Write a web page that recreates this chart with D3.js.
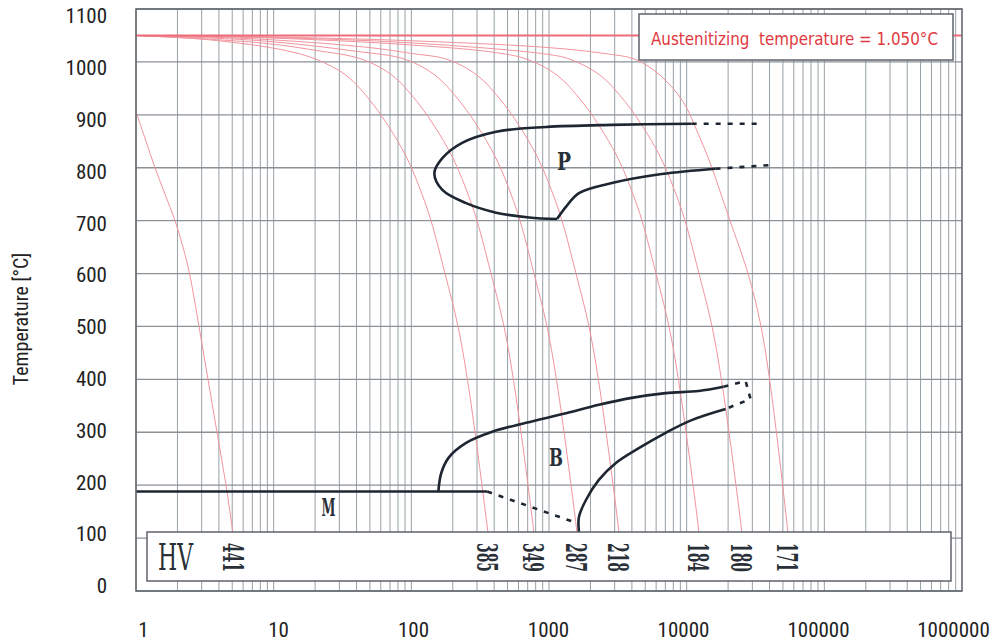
<!DOCTYPE html>
<html>
<head>
<meta charset="utf-8">
<script src="https://cdn.jsdelivr.net/npm/d3@7/dist/d3.min.js"></script>
<style>
  body { margin: 0; background: #fff; }
  svg { display: block; }
</style>
</head>
<body>
<div id="chart"></div>
<script>
// cooling curves as [time (s), temperature (°C)]
const cool441 = [[1,905],[1.017,900],[1.182,850],[1.374,800],[1.624,750],[1.92,700],[2.195,650],[2.447,600],[2.869,500],[3.334,400],[3.876,300],[4.506,200],[5.066,110],[5.3,80]];
const cool385 = [[1,1050],[3,1043],[8,1030],[14,1018],[20.3,1005],[33.5,975],[50.9,925],[73.6,865],[96.2,810],[119.5,750],[138.9,700],[175.6,600],[218.3,500],[262.4,380],[360.5,110],[372,80]];
const cool349 = [[1,1050],[8,1036],[20,1022],[43.8,1005],[72.4,975],[109.9,925],[158.9,865],[207.6,810],[257.9,750],[299.9,700],[379,600],[471.1,500],[566.2,380],[778,110],[800,80]];
const cool287 = [[1,1050],[8,1040],[40,1020],[89.9,1005],[148.6,975],[225.7,925],[326.1,865],[426.1,810],[529.7,750],[615.8,700],[778,600],[967.1,500],[1162.8,380],[1597,110],[1640,80]];
const cool218 = [[1,1050],[8,1043],[50,1027],[100,1016],[181.6,1005],[299.9,975],[455.7,925],[658.2,865],[860.3,810],[1069,750],[1243,700],[1571,600],[1952,500],[2346,380],[3225,110],[3300,80]];
const cool184 = [[1,1050],[10,1045],[100,1032],[400,1018],[692,1005],[1143,975],[1737,925],[2508,865],[3279,810],[4075,750],[4738,700],[5987,600],[7438,500],[8943,380],[12290,110],[12600,80]];
const cool180 = [[1,1050],[10,1046],[100,1036],[1000,1014],[1421,1005],[2346,975],[3566,925],[5151,865],[6732,810],[8365,750],[9725,700],[12290,600],[15280,500],[18360,380],[25230,110],[26000,80]];
const cool171 = [[1,1050],[10,1047],[100,1040],[1000,1027],[2500,1016],[4214,1005],[6403,975],[9406,925],[12090,865],[14770,810],[17760,750],[20640,700],[27890,600],[34670,500],[40990,380],[54470,110],[56000,80]];

const coolingCurves = [cool441, cool385, cool349, cool287, cool218, cool184, cool180, cool171];
const hvValues = [441, 385, 349, 287, 218, 184, 180, 171];

const austenitizingT = 1050;

// transformation lines
const pNose = [[10870,883],[2860,881],[951,877],[413,868],[234,847],[168,818],[147,790],[168,758],[250,733],[413,715],[716,706],[1143,703]];
const pFinish = [[1143,703],[1327,726],[1650,752],[2860,771],[6590,788],[16200,798]];
const pStartDash = [[10870,883],[34400,883]];
const pFinishDash = [[16200,798],[40600,805]];

const bStart = [[157,187],[165,223],[188,253],[250,280],[387,301],[681,318],[1328,336],[2302,352],[3990,365],[7040,374],[12200,378],[18500,386]];
const bFinish = [[1650,111],[1650,140],[1855,172],[2302,210],[3060,242],[4490,270],[7040,299],[10870,323],[19170,344]];
const bDash = [[18500,386],[26800,397],[29100,363],[19170,344]];

const msLine = [[1,188],[356,188]];
const msDash = [[356,188],[1570,129]];

const phaseLabels = [
  { text: "P", t: 1285, T: 811 },
  { text: "B", t: 1125, T: 253 },
  { text: "M", t: 25, T: 157 }
];

const yTicks = d3.range(0, 1101, 100);
const xTicks = [1, 10, 100, 1000, 10000, 100000, 1000000];

const width = 991, height = 644;
const plot = { left: 136, right: 962, top: 9, bottom: 591 };

const svg = d3.select("#chart")
  .append("svg")
  .attr("width", width)
  .attr("height", height);

const x = d3.scaleLog().domain([1, 1e6]).range([plot.left, plot.right]);
const y = d3.scaleLinear().domain([0, 1100]).range([plot.bottom, plot.top]);

// grid
const minorTicks = [];
for (let k = 0; k < 6; k++) for (let m = 1; m < 10; m++) minorTicks.push(m * Math.pow(10, k));

svg.append("g")
  .selectAll("line")
  .data(minorTicks)
  .enter().append("line")
  .attr("x1", d => x(d)).attr("x2", d => x(d))
  .attr("y1", plot.top).attr("y2", plot.bottom)
  .attr("stroke", "#97a0a6")
  .attr("stroke-width", 1);

svg.append("g")
  .selectAll("line")
  .data(yTicks)
  .enter().append("line")
  .attr("x1", plot.left).attr("x2", plot.right)
  .attr("y1", d => y(d)).attr("y2", d => y(d))
  .attr("stroke", "#8a9298")
  .attr("stroke-width", 1.3);

const smooth = d3.line()
  .x(d => x(d[0]))
  .y(d => y(d[1]))
  .curve(d3.curveCatmullRom.alpha(0.5));
const straight = d3.line().x(d => x(d[0])).y(d => y(d[1]));

// cooling curves
svg.append("g")
  .selectAll("path")
  .data(coolingCurves)
  .enter().append("path")
  .attr("d", smooth)
  .attr("fill", "none")
  .attr("stroke", "#f2949e")
  .attr("stroke-width", 1);

svg.append("line")
  .attr("x1", plot.left).attr("x2", plot.right)
  .attr("y1", y(austenitizingT)).attr("y2", y(austenitizingT))
  .attr("stroke", "#ee6b79")
  .attr("stroke-width", 2);

// legend box
svg.append("rect")
  .attr("x", 639).attr("y", 14)
  .attr("width", 314).attr("height", 46)
  .attr("fill", "#fff")
  .attr("stroke", "#5f6368")
  .attr("stroke-width", 1.5);

svg.append("text")
  .attr("x", 651).attr("y", 45)
  .attr("textLength", 287)
  .attr("lengthAdjust", "spacingAndGlyphs")
  .style("font-family", "'DejaVu Sans', Verdana, sans-serif")
  .style("font-size", "17px")
  .style("white-space", "pre")
  .attr("fill", "#e0383e")
  .text("Austenitizing  temperature = 1.050°C");

// transformation lines
svg.append("g")
  .selectAll("path")
  .data([pNose, pFinish, bStart, bFinish])
  .enter().append("path")
  .attr("d", smooth)
  .attr("fill", "none")
  .attr("stroke", "#1e2631")
  .attr("stroke-width", 2.6);

svg.append("path")
  .attr("d", straight(msLine))
  .attr("fill", "none")
  .attr("stroke", "#1e2631")
  .attr("stroke-width", 2.6);

svg.append("g")
  .selectAll("path")
  .data([pStartDash, pFinishDash, bDash, msDash])
  .enter().append("path")
  .attr("d", straight)
  .attr("fill", "none")
  .attr("stroke", "#1e2631")
  .attr("stroke-width", 2.6)
  .attr("stroke-dasharray", "5,7");

svg.append("g")
  .selectAll("text")
  .data(phaseLabels)
  .enter().append("text")
  .attr("x", d => x(d.t))
  .attr("y", d => y(d.T))
  .attr("dy", "0.35em")
  .attr("text-anchor", "middle")
  .attr("textLength", 14)
  .attr("lengthAdjust", "spacingAndGlyphs")
  .style("font-family", "'DejaVu Serif', serif")
  .style("font-weight", "bold")
  .style("font-size", "24px")
  .attr("fill", "#2a3038")
  .text(d => d.text);

// HV box
const hvBox = { x0: 147, x1: 951, top: 532, bottom: 581 };
svg.append("rect")
  .attr("x", hvBox.x0).attr("y", hvBox.top)
  .attr("width", hvBox.x1 - hvBox.x0).attr("height", hvBox.bottom - hvBox.top)
  .attr("fill", "#fff")
  .attr("stroke", "#5f6368")
  .attr("stroke-width", 1.5);

svg.append("text")
  .attr("x", 158).attr("y", 570)
  .attr("textLength", 35)
  .attr("lengthAdjust", "spacingAndGlyphs")
  .style("font-family", "'DejaVu Serif', serif")
  .style("font-size", "38px")
  .attr("fill", "#2a3038")
  .text("HV");

svg.append("g")
  .selectAll("text")
  .data(hvValues)
  .enter().append("text")
  .attr("transform", (d, i) => {
    const c = coolingCurves[i];
    return `translate(${x(c[c.length - 1][0]) - 3},${543}) rotate(90)`;
  })
  .attr("dy", "0.35em")
  .attr("textLength", 29)
  .attr("lengthAdjust", "spacingAndGlyphs")
  .style("font-family", "'DejaVu Serif', serif")
  .style("font-weight", "bold")
  .style("font-size", "27px")
  .attr("fill", "#2a3038")
  .text(d => d);

// frame
svg.append("rect")
  .attr("x", plot.left).attr("y", plot.top)
  .attr("width", plot.right - plot.left).attr("height", plot.bottom - plot.top)
  .attr("fill", "none")
  .attr("stroke", "#666b70")
  .attr("stroke-width", 1.6);

// axis labels sit on their own slightly offset scale, as in the source image
const yLab = d3.scaleLinear().domain([0, 1100]).range([586, 16]);
const xLab = d3.scaleLog().domain([1, 1e6]).range([143, 953]);

const labelFont = "'Liberation Sans Narrow', 'Arial Narrow', 'Roboto Condensed', sans-serif";

svg.append("g")
  .attr("transform", "translate(107,0)")
  .call(d3.axisLeft(yLab).tickValues(yTicks).tickFormat(d3.format("d")).tickSize(0).tickPadding(0))
  .call(g => g.select(".domain").remove())
  .selectAll("text")
  .style("font-family", labelFont)
  .style("font-size", "21px")
  .attr("fill", "#222");

svg.append("g")
  .attr("transform", "translate(0,619)")
  .call(d3.axisBottom(xLab).tickValues(xTicks).tickFormat(d3.format("d")).tickSize(0).tickPadding(3))
  .call(g => g.select(".domain").remove())
  .selectAll("text")
  .style("font-family", labelFont)
  .style("font-size", "21px")
  .attr("fill", "#222");

svg.append("text")
  .attr("transform", "translate(21,319) rotate(-90)")
  .attr("text-anchor", "middle")
  .attr("dy", "0.35em")
  .style("font-family", labelFont)
  .style("font-size", "20px")
  .attr("fill", "#222")
  .text("Temperature [°C]");
</script>
</body>
</html>
